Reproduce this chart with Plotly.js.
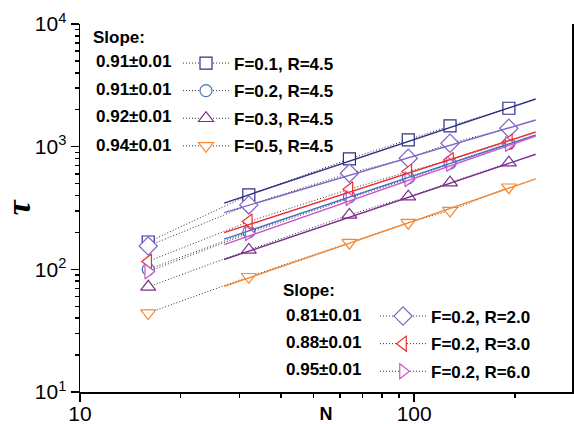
<!DOCTYPE html>
<html>
<head>
<meta charset="utf-8">
<script src="https://cdn.plot.ly/plotly-3.0.1.min.js"></script>
<style>
  html, body { margin: 0; padding: 0; background: #fff; }
  #chart { width: 574px; height: 424px; }
</style>
</head>
<body>
<div id="chart"></div>
<script>
// Relaxation time tau versus system size N, log-log
const N = [16, 32, 64, 96, 128, 192];

const tauF01R45 = [167, 404, 794, 1134, 1475, 2056];
const tauF02R45 = [100, 202, 390, 556, 735, 1065];
const tauF03R45 = [72, 144, 278, 391, 509, 741];
const tauF05R45 = [44, 87, 165, 240, 301, 467];
const tauF02R20 = [155, 335, 607, 804, 1066, 1413];
const tauF02R30 = [116, 245, 450, 626, 779, 1099];
const tauF02R60 = [96, 197, 380, 542, 723, 1052];

const seriesNames = ['F=0.1, R=4.5', 'F=0.2, R=4.5', 'F=0.3, R=4.5', 'F=0.5, R=4.5',
                     'F=0.2, R=2.0', 'F=0.2, R=3.0', 'F=0.2, R=6.0'];
const slopeLabels = ['0.91±0.01', '0.91±0.01', '0.92±0.01', '0.94±0.01',
                     '0.81±0.01', '0.88±0.01', '0.95±0.01'];
const slopes = [0.91, 0.91, 0.92, 0.94, 0.81, 0.88, 0.95];

// power-law fits: drawn over N in fitRange, anchored at the upper end value
const fitRange = [27, 231];
const fitEndValue = [2448, 1245, 867, 546, 1651, 1318, 1222];

const xTickVals = [10, 100];
const xTickText = ['10', '100'];
const yTickVals = [10, 100, 1000, 10000];
const yTickText = ['10<sup>1</sup>', '10<sup>2</sup>', '10<sup>3</sup>', '10<sup>4</sup>'];

// ---- styling ----
const seriesData = [tauF01R45, tauF02R45, tauF03R45, tauF05R45, tauF02R20, tauF02R30, tauF02R60];
const colors = ['#2E3087', '#4A6FC7', '#7A2C8C', '#F7882F', '#7E64C8', '#EE2B2E', '#C958C4'];
const symbols = ['square', 'circle', 'triangle-up', 'triangle-down',
                 'diamond', 'triangle-left', 'triangle-right'];
const sizes = [12, 12, 13, 13, 14, 13, 13];
const legendOf = ['legend', 'legend', 'legend', 'legend', 'legend2', 'legend2', 'legend2'];

const W = 574, H = 424, ML = 80, MR = 2, MT = 24, MB = 32;
const px2x = p => (p - ML) / (W - ML - MR);
const py2y = p => (H - MB - p) / (H - MT - MB);

function minorTicks(lo, hi) {
  const out = [];
  for (let d = lo; d < hi; d *= 10) {
    for (let k = 2; k <= 9; k++) out.push(k * d);
  }
  return out;
}

const traces = [];
// measured points (white-filled symbols), joined by thin dotted lines
seriesData.forEach((vals, i) => {
  traces.push({
    x: N, y: vals, type: 'scatter', mode: 'lines+markers',
    name: seriesNames[i], legend: legendOf[i], legendgroup: 'g' + i,
    line: { color: '#333', width: 1, dash: '1px,2px' },
    marker: { symbol: symbols[i], size: sizes[i], color: '#fff', line: { width: 1.2, color: colors[i] } },
    hoverinfo: 'x+y'
  });
});
// solid fit lines on top
seriesData.forEach((vals, i) => {
  const fx = fitRange.slice();
  const fy = fx.map(n => fitEndValue[i] * Math.pow(n / fitRange[1], slopes[i]));
  traces.push({
    x: fx, y: fy, type: 'scatter', mode: 'lines', showlegend: false,
    line: { color: colors[i], width: 1.4 }, hoverinfo: 'skip'
  });
});

const annFont = { family: 'Liberation Sans, Arial, sans-serif', size: 17, color: '#000', weight: 'bold' };
const annotations = [];
function ann(text, x, y) {
  annotations.push({ text: text, xref: 'paper', yref: 'paper', x: px2x(x), y: py2y(y),
                     xanchor: 'left', yanchor: 'middle', showarrow: false, font: annFont });
}
ann('Slope:', 91, 38);
[61.7, 89.3, 116.7, 145].forEach((yy, k) => ann(slopeLabels[k], 94, yy));
ann('Slope:', 281, 290);
[315, 342, 369.5].forEach((yy, k) => ann(slopeLabels[4 + k], 284, yy));

const legendCommon = {
  xanchor: 'left', yanchor: 'top', bgcolor: 'rgba(0,0,0,0)', borderwidth: 0,
  font: annFont, itemwidth: 46, tracegroupgap: 2.5, itemclick: false, itemdoubleclick: false
};

const axisFont = { family: 'Liberation Sans, Arial, sans-serif', size: 21, color: '#000' };

const layout = {
  width: W, height: H,
  margin: { l: ML, r: MR, t: MT, b: MB, pad: 0 },
  paper_bgcolor: '#fff', plot_bgcolor: '#fff',
  showlegend: true,
  xaxis: {
    type: 'log', range: [1, 2.4722], autorange: false,
    tickmode: 'array', tickvals: xTickVals, ticktext: xTickText,
    ticks: 'outside', ticklen: 8, tickwidth: 1.5, tickcolor: '#000', ticklabelstandoff: -6,
    minor: { tickmode: 'array', tickvals: minorTicks(10, 1000), ticks: 'outside', ticklen: 4, tickwidth: 1.5, tickcolor: '#000', showgrid: false },
    showline: true, linecolor: '#000', linewidth: 1.5, mirror: false,
    showgrid: false, zeroline: false, tickfont: axisFont,
    title: { text: 'N', font: { family: 'Liberation Sans, Arial, sans-serif', size: 18, color: '#000', weight: 'bold' }, standoff: 7 }
  },
  xaxis2: {
    type: 'log', range: [1, 2.4722], autorange: false,
    overlaying: 'x', anchor: 'y', side: 'top',
    tickmode: 'array', tickvals: xTickVals, showticklabels: false,
    ticks: 'inside', ticklen: 8, tickwidth: 1.5, tickcolor: '#000',
    minor: { tickmode: 'array', tickvals: minorTicks(10, 1000), ticks: 'inside', ticklen: 4, tickwidth: 1.5, tickcolor: '#000', showgrid: false },
    showline: true, linecolor: '#000', linewidth: 1.5,
    showgrid: false, zeroline: false
  },
  yaxis: {
    type: 'log', range: [1, 4], autorange: false,
    tickmode: 'array', tickvals: yTickVals, ticktext: yTickText,
    ticks: 'outside', ticklen: 8, tickwidth: 1.5, tickcolor: '#000',
    minor: { tickmode: 'array', tickvals: minorTicks(10, 10000), ticks: 'outside', ticklen: 4, tickwidth: 1.5, tickcolor: '#000', showgrid: false },
    showline: true, linecolor: '#000', linewidth: 1.5, mirror: 'ticks',
    showgrid: false, zeroline: false, tickfont: axisFont,
    title: { text: 'τ', font: { family: 'Liberation Serif, serif', size: 34, color: '#000', weight: 'bold', style: 'italic' }, standoff: 2 }
  },
  legend: Object.assign({ x: px2x(178), y: py2y(45.5) }, legendCommon),
  legend2: Object.assign({ x: px2x(375), y: py2y(298.5) }, legendCommon),
  annotations: annotations
};

Plotly.newPlot('chart', traces, layout, { displayModeBar: false, staticPlot: true });
</script>
</body>
</html>
